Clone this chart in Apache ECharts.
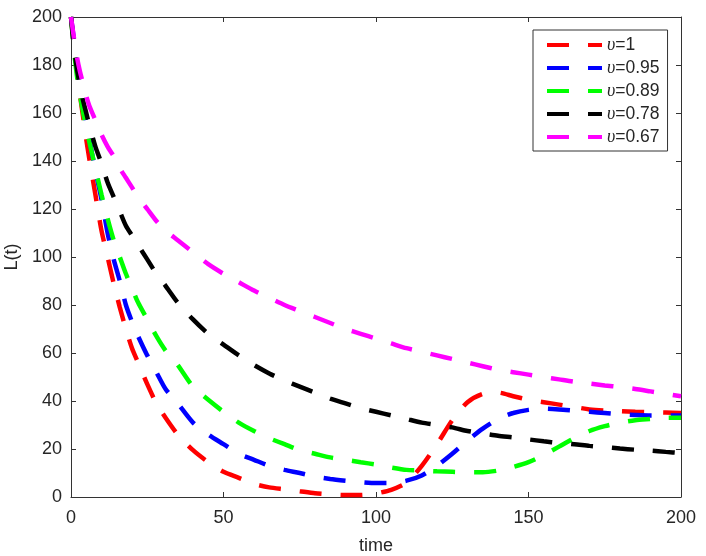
<!DOCTYPE html>
<html>
<head>
<meta charset="utf-8">
<script src="https://cdn.jsdelivr.net/npm/echarts@6/dist/echarts.min.js"></script>
<style>html,body{margin:0;padding:0;background:#fff}#c{width:706px;height:556px}</style>
</head>
<body>
<div id="c"></div>
<script>
const time = [0,1,2,3,4,5,6,8,10,12,14,16,18,20,22,25,28,31,35,40,45,50,55,60,65,70,75,80,85,90,95,100,105,110,115,120,125,130,135,140,145,150,155,160,165,170,175,180,185,190,195,200];
const v100 = [200,188,177,167,158,149,141,126,111,100,89,79,70,62,56,47,39,33,26,19.5,14.5,10.5,8,5.5,4,3.2,2.4,1.6,1.1,0.8,0.8,1.5,3,6,13,22,32,39.5,43,43.5,42,40.5,39.5,38.5,37.5,36.5,36,35.8,35.5,35.3,35.2,35];
const v095 = [200,190,180,171,163,156,149,136,124,110,99,90,80,73,67,59,52,45,39,31,26,22,18,15.5,13,11.3,10,8.5,7.5,6.8,6.2,5.8,5.8,6.8,9,13,18,23.5,28.5,32.5,35,36.3,36.8,36.5,36,35.5,35,34.5,34.2,34,34,34];
const v089 = [200,186,175,167,160,154,148,137,126,116,107,100,93,87,81,74,67,61,55,46,40.5,35.5,31,27.5,24.5,22,19.5,18,16.5,15.5,14.5,13.5,12.3,11.3,11,10.7,10.5,10.3,10.3,11,12.5,14.5,17.5,21,24.5,27.5,29.5,31,32,32.5,33,33];
const v078 = [200,187,178,171,165,160,155,146,139,131,125,119,113,109,105,99,93,88,81,74,68,63.5,59,55,51.5,48.5,46,43.5,41,39,37,35.5,34,32.5,31,30,29,27.5,26.5,25.5,24.8,24,23.2,22.5,22,21.3,20.8,20.2,19.7,19.3,18.8,18.3];
const v067 = [200,191,183,177,172,167,163,157,151,146,142,137,133,129,125,120,115,111,107,102,97,93,89.5,86,83,80,77.5,75,72.5,70,68,66,64,62,60.5,59,57.5,56,54.5,53,52,51,50,49,48,47.3,46.5,45.8,45,44,43,42];
const seriesNames = ['υ=1','υ=0.95','υ=0.89','υ=0.78','υ=0.67'];
const seriesValues = [v100, v095, v089, v078, v067];
const colors = ['#ff0000','#0000ff','#00ff00','#000000','#ff00ff'];
const xTicks = {min: 0, max: 200, interval: 50};
const yTicks = {min: 0, max: 200, interval: 20};

const axisColor = '#333333';
const font = 'Liberation Sans, Arial, Helvetica, sans-serif';
const dashIcon = 'path://M0,0H22V4H0Z M41,0H55V4H41Z';

const chart = echarts.init(document.getElementById('c'));
const series = seriesValues.map((vals, i) => ({
  name: seriesNames[i],
  type: 'line',
  data: time.map((t, k) => [t, vals[k]]),
  showSymbol: false,
  symbol: 'none',
  smooth: 0.25,
  color: colors[i],
  itemStyle: {color: colors[i]},
  lineStyle: {width: 4.5, type: [22, 19], color: colors[i], cap: 'butt'},
  z: 2 + i,
  animation: false
}));

chart.setOption({
  animation: false,
  backgroundColor: '#ffffff',
  grid: {left: 71, right: 25, top: 17, bottom: 59, containLabel: false, outerBoundsMode: 'none'},
  legend: {
    orient: 'vertical',
    left: 533, top: 30,
    padding: [6, 8, 5, 14],
    itemGap: 5,
    itemWidth: 55, itemHeight: 4.5,
    icon: dashIcon,
    backgroundColor: '#ffffff',
    borderColor: '#333333',
    borderWidth: 1,
    borderRadius: 0,
    data: seriesNames.map((n, i) => ({name: n, icon: dashIcon, itemStyle: {color: colors[i]}})),
    formatter: function (name) { return '{u|υ}' + name.slice(1); },
    textStyle: {
      fontFamily: font, fontSize: 17.5, color: '#262626',
      rich: {u: {fontFamily: 'Liberation Serif, Times New Roman, serif', fontStyle: 'italic', fontSize: 18, color: '#262626'}}
    }
  },
  xAxis: [{
    type: 'value', min: xTicks.min, max: xTicks.max, interval: xTicks.interval,
    name: 'time', nameLocation: 'middle', nameGap: 40,
    nameTextStyle: {fontFamily: font, fontSize: 18, color: '#262626'},
    axisLine: {show: true, onZero: false, lineStyle: {color: axisColor, width: 1}},
    axisTick: {show: true, inside: true, length: 5, lineStyle: {color: axisColor}},
    axisLabel: {fontFamily: font, fontSize: 18, color: '#262626', margin: 12},
    splitLine: {show: false}
  }, {
    type: 'value', position: 'top', min: xTicks.min, max: xTicks.max, interval: xTicks.interval,
    axisLine: {show: true, onZero: false, lineStyle: {color: axisColor, width: 1}},
    axisTick: {show: true, inside: true, length: 5, lineStyle: {color: axisColor}},
    axisLabel: {show: false}, splitLine: {show: false}
  }],
  yAxis: [{
    type: 'value', min: yTicks.min, max: yTicks.max, interval: yTicks.interval,
    name: 'L(t)', nameLocation: 'middle', nameGap: 43, nameRotate: 90,
    nameTextStyle: {fontFamily: font, fontSize: 18, color: '#262626'},
    axisLine: {show: true, onZero: false, lineStyle: {color: axisColor, width: 1}},
    axisTick: {show: true, inside: true, length: 5, lineStyle: {color: axisColor}},
    axisLabel: {fontFamily: font, fontSize: 18, color: '#262626', margin: 9},
    splitLine: {show: false}
  }, {
    type: 'value', position: 'right', min: yTicks.min, max: yTicks.max, interval: yTicks.interval,
    axisLine: {show: true, onZero: false, lineStyle: {color: axisColor, width: 1}},
    axisTick: {show: true, inside: true, length: 5, lineStyle: {color: axisColor}},
    axisLabel: {show: false}, splitLine: {show: false}
  }],
  series: series
});
</script>
</body>
</html>
